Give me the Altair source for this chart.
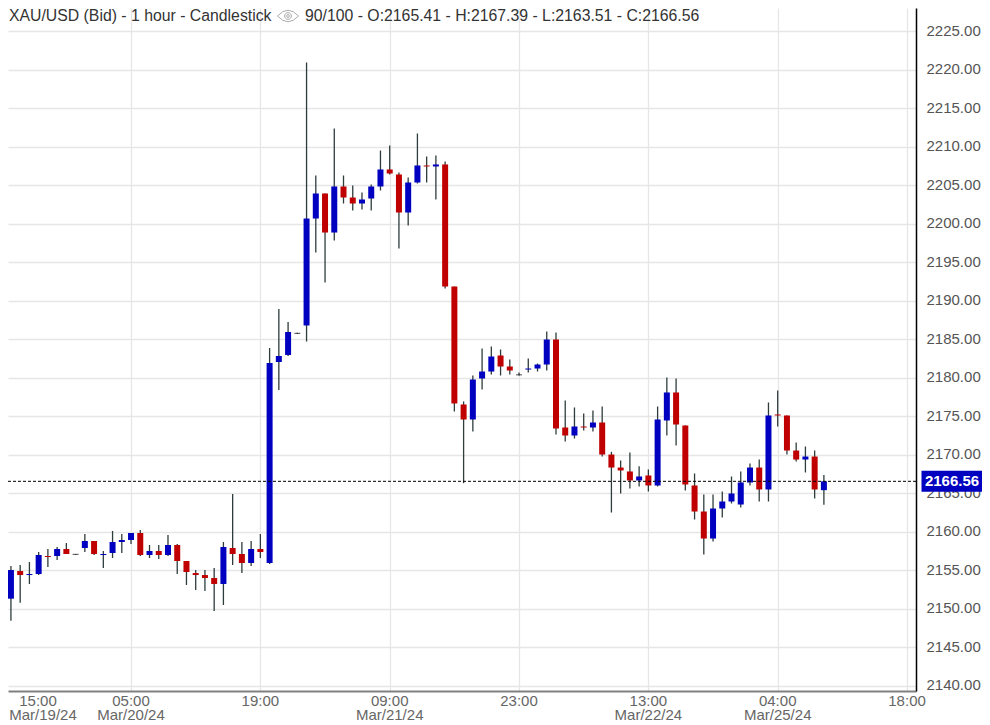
import altair as alt
import pandas as pd

opens = [2156.99,2151.32,2154.91,2154.39,2154.52,2156.86,2156.86,2157.77,2157.08,2157.90,
         2158.81,2156.99,2157.25,2158.68,2158.94,2159.85,2156.99,2157.51,2156.99,2158.29,
         2156.21,2154.65,2154.39,2154.00,2153.23,2157.90,2157.12,2155.95,2157.77,2155.95,
         2182.06,2182.97,2185.78,2186.80,2200.69,2203.94,2198.87,2204.85,2203.42,2202.64,
         2203.29,2204.85,2207.06,2206.41,2201.47,2205.37,2207.58,2207.45,2207.71,2191.86,
         2176.54,2174.59,2179.91,2180.82,2182.90,2181.47,2180.39,2181.08,2181.21,2181.73,
         2184.98,2173.55,2172.51,2173.68,2173.55,2174.20,2170.04,2168.35,2167.84,2166.67,
         2167.32,2166.02,2174.46,2178.10,2173.81,2166.02,2162.64,2159.13,2163.03,2163.94,
         2163.55,2166.41,2168.35,2165.50,2175.24,2175.11,2170.56,2169.39,2169.78,2165.41]
closes = [2151.32,2155.04,2154.39,2154.52,2156.99,2156.73,2157.77,2157.12,2157.08,2158.81,
          2157.12,2157.12,2158.68,2158.94,2159.85,2156.99,2157.51,2156.99,2158.29,2156.21,
          2154.78,2154.39,2154.00,2153.23,2158.03,2157.12,2155.95,2157.77,2157.38,2181.93,
          2182.84,2185.95,2185.78,2200.69,2203.94,2198.87,2204.85,2203.42,2202.64,2203.16,
          2204.85,2207.06,2206.54,2201.47,2205.37,2207.58,2207.45,2207.71,2191.86,2176.67,
          2174.59,2179.78,2180.82,2182.77,2181.47,2180.95,2180.39,2181.21,2181.73,2184.98,
          2173.42,2172.51,2173.68,2173.55,2174.20,2170.04,2168.35,2167.97,2166.67,2167.19,
          2166.02,2174.59,2178.10,2173.94,2166.15,2162.64,2159.13,2163.03,2163.94,2164.98,
          2166.41,2168.35,2165.50,2175.11,2175.11,2170.56,2169.39,2169.78,2165.50,2166.56]
highs = [2158.81,2155.56,2155.69,2156.08,2157.38,2157.77,2158.03,2158.55,2157.12,2159.72,
         2158.81,2157.51,2160.11,2159.72,2159.85,2160.24,2158.29,2158.29,2159.59,2158.42,
         2156.21,2155.04,2155.04,2155.30,2158.68,2164.91,2158.68,2158.81,2159.72,2183.87,
         2188.94,2187.25,2185.85,2220.95,2206.28,2203.94,2212.38,2206.28,2204.98,2204.07,
         2205.11,2209.52,2210.17,2206.67,2206.02,2211.73,2208.74,2208.87,2208.10,2191.86,
         2176.93,2180.30,2183.81,2184.07,2183.68,2182.38,2180.69,2182.51,2181.86,2186.02,
         2185.89,2177.06,2176.15,2175.37,2175.76,2176.28,2170.39,2169.26,2170.30,2168.52,
         2168.10,2176.28,2180.04,2179.91,2173.81,2167.58,2164.85,2164.85,2165.24,2167.19,
         2167.84,2168.87,2169.39,2176.80,2178.35,2175.11,2171.60,2171.08,2170.56,2167.39]
lows = [2150.50,2148.46,2150.80,2153.23,2154.39,2155.43,2156.34,2157.12,2157.05,2157.38,
        2156.99,2155.30,2156.60,2157.25,2158.42,2156.86,2156.60,2156.47,2156.86,2154.52,
        2153.10,2152.45,2152.32,2149.72,2150.50,2155.69,2154.65,2155.56,2156.60,2155.82,
        2178.42,2182.84,2185.72,2184.72,2196.28,2192.38,2197.84,2202.64,2201.73,2201.86,
        2201.73,2204.33,2206.41,2196.80,2199.78,2205.24,2205.37,2203.16,2191.60,2175.63,
        2166.32,2173.03,2178.48,2180.43,2180.30,2180.43,2180.30,2180.69,2180.82,2180.95,
        2172.64,2171.73,2172.12,2173.16,2173.03,2169.78,2162.51,2164.98,2165.63,2165.89,
        2165.24,2165.89,2172.51,2171.21,2165.37,2161.60,2157.06,2158.74,2161.86,2163.68,
        2163.16,2166.02,2163.94,2163.94,2173.68,2170.04,2169.13,2167.71,2164.33,2163.51]

tick_slots = [0, 14, 28, 42, 56, 70, 84, 98]
tick_times = ["15:00", "05:00", "19:00", "09:00", "23:00", "13:00", "04:00", "18:00"]
tick_dates = ["Mar/19/24", "Mar/20/24", "", "Mar/21/24", "", "Mar/22/24", "Mar/25/24", ""]
y_ticks = list(range(2140, 2230, 5))
last_price = 2166.56
header_left = "XAU/USD (Bid) - 1 hour - Candlestick"
header_right = "90/100 - O:2165.41 - H:2167.39 - L:2163.51 - C:2166.56"

FONT = "Liberation Sans"
BLUE, RED = "#0000c0", "#c00000"
GRID = "#e6e6e6"
W, H = 908, 683

candles = pd.DataFrame({"i": range(len(opens)), "o": opens, "c": closes, "h": highs, "l": lows})
candles["dir"] = ["up" if c > o else ("down" if c < o else "flat") for o, c in zip(opens, closes)]
ticks = pd.DataFrame({"i": tick_slots, "t": tick_times, "d": tick_dates})
price = pd.DataFrame({"p": [last_price], "s": [f"{last_price:.2f}"]})
one = pd.DataFrame({"a": [0]})

xs = alt.Scale(domain=[0.682, 98.97], nice=False, zero=False, padding=0)
ys = alt.Scale(domain=[2139.33, 2228.03], nice=False, zero=False, padding=0)

x_enc = alt.X("i:Q", scale=xs, axis=alt.Axis(
    values=tick_slots, grid=True, gridColor=GRID, gridWidth=1.3, labels=False, ticks=False,
    title=None, domainColor="#808080", domainWidth=2.2))
y_enc = alt.Y("l:Q", scale=ys, axis=alt.Axis(
    orient="right", values=y_ticks, format=".2f", grid=True, gridColor=GRID, gridWidth=1.3,
    ticks=False, title=None, domainColor="#000000", domainWidth=1.5, labelPadding=10,
    labelFont=FONT, labelFontSize=15, labelColor="#555555", labelOffset=-1))

wicks = alt.Chart(candles).mark_rule(color="#2f3c3c", strokeWidth=1.3).encode(
    x=x_enc, y=y_enc, y2="h:Q")

color = alt.Color("dir:N", scale=alt.Scale(domain=["up", "down"], range=[BLUE, RED]), legend=None)
bodies = alt.Chart(candles[candles["dir"] != "flat"]).mark_bar(size=6).encode(
    x=alt.X("i:Q", scale=xs), y=alt.Y("o:Q", scale=ys), y2="c:Q", color=color)
dojis = alt.Chart(candles[candles["dir"] == "flat"]).mark_tick(
    orient="horizontal", size=6, thickness=1, color="#000000").encode(
    x=alt.X("i:Q", scale=xs), y=alt.Y("c:Q", scale=ys))

last_line = alt.Chart(price).mark_rule(color="#000000", strokeWidth=1, strokeDash=[3, 2]).encode(
    y=alt.Y("p:Q", scale=ys), x=alt.value(0), x2=alt.value(W))
last_box = alt.Chart(price).mark_rule(color=BLUE, strokeWidth=21).encode(
    y=alt.Y("p:Q", scale=ys), x=alt.value(913.5), x2=alt.value(974.5))
last_text = alt.Chart(price).mark_text(
    color="#ffffff", font=FONT, fontSize=15, fontWeight="bold", align="center", baseline="middle").encode(
    y=alt.Y("p:Q", scale=ys), x=alt.value(944), text="s:N")

time_kw = dict(font=FONT, fontSize=15, color="#666666", baseline="middle", align="center")
later = ticks[ticks["i"] > 0]
dated = later[later["d"] != ""]
first = ticks[ticks["i"] == 0]
time_labels = alt.Chart(later).mark_text(**time_kw).encode(
    x=alt.X("i:Q", scale=xs), y=alt.value(693), text="t:N")
date_labels = alt.Chart(dated).mark_text(**time_kw).encode(
    x=alt.X("i:Q", scale=xs), y=alt.value(707), text="d:N")
first_time = alt.Chart(first).mark_text(**time_kw).encode(x=alt.value(30), y=alt.value(693), text="t:N")
first_date = alt.Chart(first).mark_text(**time_kw).encode(x=alt.value(35), y=alt.value(707), text="d:N")

head_kw = dict(font=FONT, fontSize=15.8, color="#333333", baseline="middle", align="left")
head_a = alt.Chart(one).mark_text(text=header_left, **head_kw).encode(x=alt.value(1), y=alt.value(8))
head_b = alt.Chart(one).mark_text(text=header_right, **head_kw).encode(x=alt.value(297), y=alt.value(8))
eye_path = ("M-1,0Q0,-1.1,1,0Q0,1.1,-1,0Z"
            "M0.32,0A0.32,0.32,0,1,1,-0.32,0A0.32,0.32,0,1,1,0.32,0Z"
            "M0.14,0A0.14,0.14,0,1,1,-0.14,0A0.14,0.14,0,1,1,0.14,0Z")
eye = alt.Chart(one).mark_point(shape=eye_path, size=440, color="#8a8a8a", strokeWidth=1, filled=False).encode(
    x=alt.value(280), y=alt.value(8))

chart = alt.layer(
    wicks, bodies, dojis, last_line, last_box, last_text,
    time_labels, date_labels, first_time, first_date, head_a, eye, head_b,
).resolve_scale(color="independent").properties(
    width=W, height=H,
    padding={"left": 0, "top": 0, "right": 66, "bottom": 32},
    autosize=alt.AutoSizeParams(type="none"),
    background="#ffffff",
).configure_view(stroke=None)

chart.save("out.html", embed_options={"renderer": "svg", "actions": False})
